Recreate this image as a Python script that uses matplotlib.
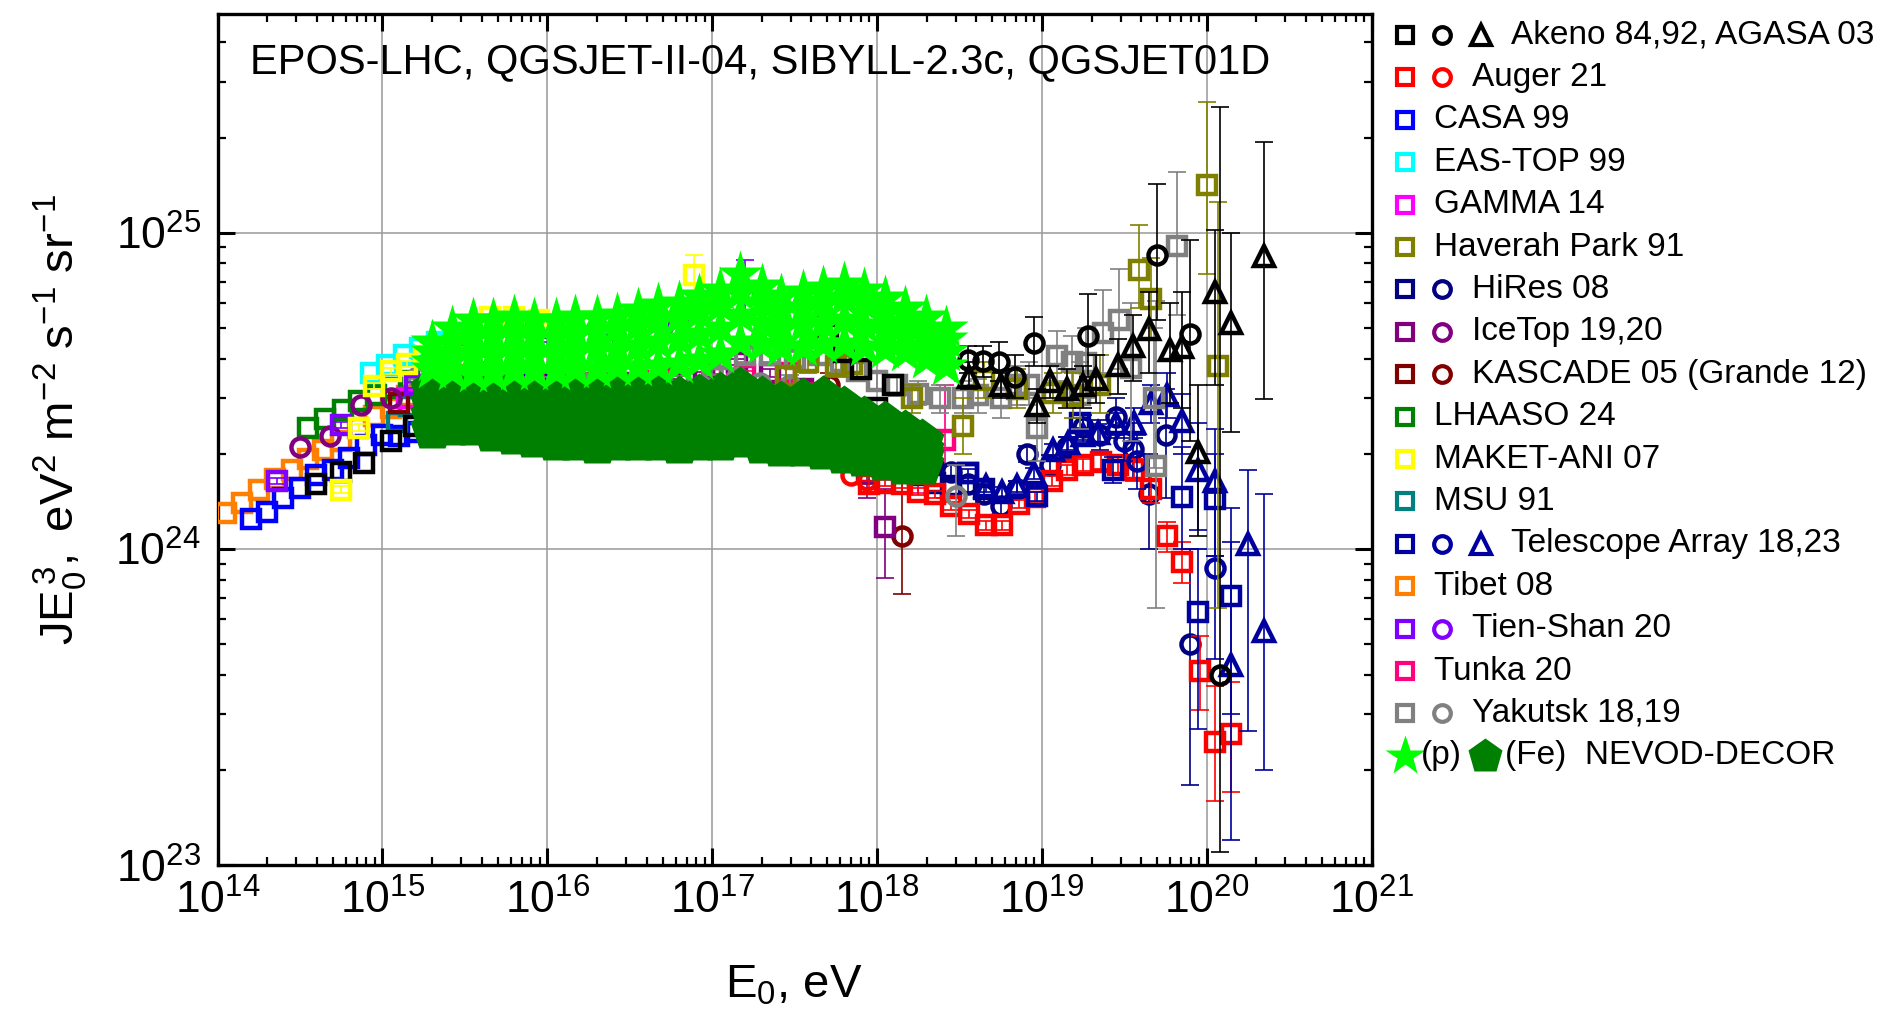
import matplotlib
matplotlib.use('Agg')
import matplotlib.pyplot as plt
from matplotlib.ticker import LogLocator, NullFormatter

plt.rcParams['font.family'] = ['Liberation Sans', 'DejaVu Sans']
plt.rcParams['mathtext.fontset'] = 'custom'
plt.rcParams['mathtext.rm'] = 'Liberation Sans'
plt.rcParams['mathtext.it'] = 'Liberation Sans:italic'
plt.rcParams['mathtext.bf'] = 'Liberation Sans:bold'

# all energies as log10(E0/eV), all fluxes J*E^3 in units of 1e24 eV^2 m^-2 s^-1 sr^-1

# Tibet 08
tibet_lg = [14.05, 14.15, 14.25, 14.35, 14.45, 14.55, 14.64, 14.75, 14.85, 14.95, 15.05, 15.15, 15.25, 15.35, 15.45, 15.6, 15.8, 16.0]
tibet_j = [1.30, 1.40, 1.54, 1.66, 1.78, 1.92, 2.05, 2.20, 2.42, 2.63, 2.80, 3.04, 3.27, 3.50, 3.55, 3.60, 3.50, 3.40]

# CASA 99
casa_lg = [14.2, 14.3, 14.4, 14.5, 14.6, 14.7, 14.8, 14.9, 15.0, 15.1, 15.2, 15.3, 15.4, 15.5, 15.6, 15.7]
casa_j = [1.24, 1.31, 1.45, 1.56, 1.71, 1.78, 1.94, 2.14, 2.30, 2.28, 2.35, 2.40, 2.40, 2.38, 2.37, 2.30]

# LHAASO 24
lhaaso_lg = [14.55, 14.65, 14.76, 14.86, 14.96, 15.06, 15.16, 15.26, 15.36, 15.46, 15.56, 15.66, 15.76, 15.86, 15.96, 16.06]
lhaaso_j = [2.42, 2.57, 2.76, 2.93, 3.08, 3.22, 3.40, 3.55, 3.60, 3.50, 3.40, 3.30, 3.20, 3.10, 3.00, 2.95]

# EAS-TOP 99
eastop_lg = [14.93, 15.03, 15.13, 15.23, 15.33, 15.43]
eastop_j = [3.60, 3.83, 4.10, 4.33, 4.50, 4.60]

# MAKET-ANI 07
maket_lg = [14.75, 14.86, 14.95, 15.05, 15.15, 15.25, 15.45, 15.65, 15.80, 15.95, 16.89]
maket_j = [1.54, 2.42, 3.27, 3.66, 3.85, 4.08, 4.60, 5.40, 5.40, 5.30, 7.38]
maket_lo = [1.50, 2.36, 3.20, 3.58, 3.77, 4.00, 4.50, 5.25, 5.25, 5.15, 6.50]
maket_hi = [1.58, 2.48, 3.34, 3.74, 3.93, 4.16, 4.70, 5.55, 5.55, 5.45, 8.50]

# MSU 91
msu_lg = [15.09, 15.16, 15.25, 15.40, 15.60, 15.80, 16.00, 16.20, 16.40, 16.60, 16.80]
msu_j = [2.53, 2.84, 2.90, 3.00, 3.10, 3.10, 3.00, 2.90, 2.80, 2.70, 2.60]

# GAMMA 14
gamma_lg = [15.15, 15.35, 15.55, 15.75, 15.95, 16.15, 16.35, 16.55, 16.75, 16.95, 17.15, 17.35]
gamma_j = [3.00, 3.20, 3.30, 3.40, 3.30, 3.20, 3.20, 3.30, 3.50, 3.60, 3.40, 2.30]

# Tien-Shan 20
tien_sq_lg = [14.36, 14.75, 15.20, 15.60, 16.00, 16.40, 16.80, 17.20]
tien_sq_j = [1.64, 2.47, 3.30, 4.00, 4.40, 4.60, 4.90, 6.50]
tien_sq_lo = [1.60, 2.41, 3.22, 3.90, 4.28, 4.45, 4.70, 5.50]
tien_sq_hi = [1.68, 2.53, 3.38, 4.10, 4.52, 4.75, 5.10, 8.20]
tien_c_lg = [15.50, 15.90, 16.30, 16.70]
tien_c_j = [4.70, 5.00, 5.00, 5.10]

# IceTop 19,20
icetop_sq_lg = [16.35, 16.55, 16.75, 16.95, 17.15, 17.35, 17.55, 17.75, 17.94, 18.05]
icetop_sq_j = [3.30, 3.35, 3.50, 3.70, 3.90, 3.60, 3.20, 2.40, 1.74, 1.17]
icetop_sq_lo = [3.25, 3.30, 3.44, 3.63, 3.82, 3.50, 3.05, 2.20, 1.45, 0.81]
icetop_sq_hi = [3.35, 3.40, 3.56, 3.77, 3.98, 3.70, 3.35, 2.60, 2.05, 1.55]
icetop_c_lg = [14.50, 14.68, 14.87, 15.05, 15.25, 15.45, 15.65, 15.85]
icetop_c_j = [2.10, 2.28, 2.85, 3.00, 3.20, 3.40, 3.50, 3.50]

# KASCADE 05 / Grande 12
kascade_sq_lg = [15.1, 15.3, 15.5, 15.7, 15.9, 16.1, 16.3, 16.5, 16.7, 16.9]
kascade_sq_j = [2.90, 3.00, 3.10, 3.00, 2.90, 2.80, 2.70, 2.60, 2.50, 2.40]
kascade_c_lg = [16.25, 16.45, 16.65, 16.85, 17.05, 17.25, 17.45, 17.71, 17.95, 18.15]
kascade_c_j = [3.30, 3.20, 3.20, 3.10, 3.00, 2.90, 2.80, 3.30, 2.00, 1.10]
kascade_c_lo = [3.25, 3.15, 3.10, 2.95, 2.80, 2.60, 2.40, 3.00, 1.60, 0.72]
kascade_c_hi = [3.35, 3.25, 3.30, 3.25, 3.20, 3.20, 3.20, 3.60, 2.40, 1.62]

# Tunka 20
tunka_lg = [15.8, 16.0, 16.2, 16.4, 16.6, 16.8, 17.0, 17.2, 17.45, 17.65, 17.85, 18.05, 18.25, 18.41]
tunka_j = [3.30, 3.30, 3.35, 3.35, 3.40, 3.45, 3.50, 3.55, 3.61, 3.10, 2.40, 2.00, 1.90, 2.22]
tunka_lo = [3.25, 3.25, 3.30, 3.30, 3.34, 3.38, 3.42, 3.45, 3.45, 2.85, 2.10, 1.65, 1.50, 1.45]
tunka_hi = [3.35, 3.35, 3.40, 3.40, 3.46, 3.52, 3.58, 3.65, 3.80, 3.35, 2.70, 2.35, 2.35, 3.30]

# Telescope Array 18,23
ta_sq_lg = [15.45, 15.6, 15.75, 15.9, 16.05, 16.2, 16.35, 16.5, 16.65, 16.8, 16.95, 17.1, 18.55, 18.97, 19.23, 19.43, 19.85, 19.95, 20.05, 20.15]
ta_sq_j = [3.50, 3.45, 3.40, 3.35, 3.30, 3.30, 3.25, 3.25, 3.20, 3.10, 3.00, 2.90, 1.74, 1.47, 2.50, 1.78, 1.46, 0.63, 1.44, 0.71]
ta_sq_lo = [3.45, 3.40, 3.35, 3.30, 3.25, 3.25, 3.20, 3.20, 3.15, 3.05, 2.95, 2.85, 1.69, 1.42, 2.40, 1.62, 1.00, 0.27, 0.95, 0.30]
ta_sq_hi = [3.55, 3.50, 3.45, 3.40, 3.35, 3.35, 3.30, 3.30, 3.25, 3.15, 3.05, 2.95, 1.79, 1.52, 2.60, 1.95, 2.10, 1.00, 2.00, 1.35]
ta_c_lg = [19.50, 19.58, 20.05]
ta_c_j = [2.20, 1.90, 0.87]
ta_c_lo = [1.90, 1.55, 0.45]
ta_c_hi = [2.50, 2.30, 1.50]
ta_t_lg = [18.66, 18.76, 18.85, 18.95, 19.07, 19.16, 19.25, 19.34, 19.45, 19.56, 19.66, 19.76, 19.85, 19.95, 20.05, 20.15, 20.25, 20.35]
ta_t_j = [1.58, 1.51, 1.58, 1.74, 2.06, 2.16, 2.30, 2.33, 2.50, 2.50, 2.90, 3.08, 2.54, 1.78, 1.64, 0.43, 1.04, 0.55]
ta_t_lo = [1.52, 1.45, 1.52, 1.67, 1.97, 2.06, 2.18, 2.18, 2.30, 2.25, 2.50, 2.60, 2.00, 1.15, 0.95, 0.12, 0.265, 0.20]
ta_t_hi = [1.64, 1.57, 1.64, 1.81, 2.15, 2.26, 2.42, 2.48, 2.70, 2.80, 3.30, 3.60, 3.10, 2.50, 2.40, 1.05, 1.78, 1.49]

# HiRes 08
hires_sq_lg = [17.25, 17.4, 17.55, 17.7, 17.85, 17.95, 18.05, 18.15, 18.25, 18.35, 18.45, 18.55, 18.65]
hires_sq_j = [2.60, 2.45, 2.30, 2.15, 2.00, 1.90, 1.85, 1.78, 1.72, 1.62, 1.58, 1.74, 1.55]
hires_c_lg = [18.28, 18.34, 18.45, 18.55, 18.65, 18.75, 18.85, 18.91, 19.05, 19.15, 19.25, 19.35, 19.45, 19.55, 19.65, 19.75, 19.90]
hires_c_j = [2.10, 1.84, 1.75, 1.60, 1.49, 1.37, 1.55, 2.00, 1.85, 2.10, 2.44, 2.30, 2.62, 2.07, 1.49, 2.30, 0.50]
hires_c_lo = [2.00, 1.75, 1.66, 1.52, 1.41, 1.29, 1.46, 1.88, 1.72, 1.94, 2.22, 2.05, 2.25, 1.65, 1.00, 1.45, 0.18]
hires_c_hi = [2.20, 1.93, 1.84, 1.68, 1.57, 1.45, 1.64, 2.12, 1.98, 2.26, 2.66, 2.55, 3.00, 2.50, 2.00, 3.20, 1.00]

# Auger 21
auger_sq_lg = [17.95, 18.05, 18.15, 18.25, 18.35, 18.45, 18.56, 18.66, 18.76, 18.86, 18.96, 19.06, 19.15, 19.25, 19.36, 19.46, 19.56, 19.66, 19.76, 19.85, 19.96, 20.05, 20.15]
auger_sq_j = [1.60, 1.62, 1.60, 1.52, 1.49, 1.37, 1.29, 1.19, 1.19, 1.39, 1.46, 1.64, 1.78, 1.84, 1.89, 1.85, 1.78, 1.55, 1.10, 0.91, 0.41, 0.246, 0.26]
auger_sq_lo = [1.56, 1.58, 1.56, 1.48, 1.45, 1.33, 1.25, 1.15, 1.15, 1.35, 1.41, 1.58, 1.71, 1.76, 1.79, 1.74, 1.64, 1.40, 0.98, 0.78, 0.31, 0.16, 0.17]
auger_sq_hi = [1.64, 1.66, 1.64, 1.56, 1.53, 1.41, 1.33, 1.23, 1.23, 1.43, 1.51, 1.70, 1.85, 1.92, 1.99, 1.96, 1.92, 1.70, 1.22, 1.05, 0.53, 0.37, 0.38]
auger_c_lg = [17.50, 17.58, 17.66, 17.75, 17.84, 17.94]
auger_c_j = [2.35, 2.20, 2.05, 1.96, 1.71, 1.65]

# Haverah Park 91
hp_lg = [17.45, 17.58, 17.75, 17.85, 18.21, 18.52, 18.65, 18.85, 19.07, 19.19, 19.35, 19.59, 19.66, 20.00, 20.07]
hp_j = [3.52, 3.90, 3.78, 3.84, 3.00, 2.45, 3.42, 3.20, 3.12, 3.05, 3.30, 7.60, 6.17, 14.2, 3.78]
hp_lo = [3.30, 3.60, 3.50, 3.50, 2.70, 2.00, 3.00, 2.80, 2.70, 2.60, 2.70, 5.80, 4.60, 7.40, 0.65]
hp_hi = [3.75, 4.20, 4.10, 4.20, 3.30, 3.00, 3.90, 3.70, 3.60, 3.60, 4.10, 10.6, 8.30, 26.0, 12.5]

# Yakutsk 18,19
yak_sq_lg = [17.05, 17.2, 17.35, 17.5, 17.65, 17.78, 17.88, 18.0, 18.12, 18.25, 18.38, 18.52, 18.61, 18.75, 18.85, 18.92, 18.97, 19.09, 19.18, 19.23, 19.27, 19.37, 19.47, 19.54, 19.68, 19.69, 19.82]
yak_sq_j = [4.00, 4.10, 4.10, 4.00, 4.10, 3.90, 3.66, 3.40, 3.30, 3.10, 3.00, 3.00, 3.06, 3.00, 3.30, 3.31, 2.42, 4.07, 3.90, 3.08, 3.88, 4.82, 5.28, 3.73, 3.00, 1.83, 9.10]
yak_sq_lo = [3.80, 3.90, 3.90, 3.80, 3.85, 3.65, 3.40, 3.15, 3.05, 2.85, 2.70, 2.70, 2.70, 2.60, 2.85, 2.85, 1.90, 3.40, 3.20, 2.40, 3.00, 3.60, 3.70, 2.20, 1.80, 0.65, 5.50]
yak_sq_hi = [4.20, 4.30, 4.30, 4.20, 4.35, 4.15, 3.90, 3.65, 3.55, 3.40, 3.30, 3.40, 3.45, 3.40, 3.80, 3.90, 3.00, 4.90, 4.70, 3.90, 5.00, 6.60, 7.70, 6.00, 5.00, 6.10, 15.6]
yak_c_lg = [15.21, 15.4, 15.6, 15.8, 16.0, 16.2, 16.4, 16.6, 16.8, 17.0, 17.15, 17.29, 17.47, 18.48]
yak_c_j = [3.50, 3.45, 3.40, 3.40, 3.45, 3.40, 3.40, 3.35, 3.45, 3.66, 3.50, 3.34, 3.30, 1.47]
yak_c_lo = [3.45, 3.40, 3.35, 3.35, 3.40, 3.35, 3.35, 3.30, 3.38, 3.55, 3.35, 3.15, 3.05, 1.10]
yak_c_hi = [3.55, 3.50, 3.45, 3.45, 3.50, 3.45, 3.45, 3.40, 3.52, 3.77, 3.65, 3.53, 3.55, 1.84]

# Akeno 84,92 and AGASA 03
akeno_sq_lg = [14.60, 14.75, 14.89, 15.05, 15.19, 15.35, 15.50, 17.58, 17.70, 17.80, 17.90, 18.00, 18.10]
akeno_sq_j = [1.60, 1.75, 1.87, 2.20, 2.45, 2.60, 2.70, 5.58, 4.80, 4.20, 3.70, 2.79, 3.30]
akeno_c_lg = [18.55, 18.64, 18.74, 18.84, 18.95, 19.28, 19.70, 19.90, 20.08]
akeno_c_j = [3.97, 3.94, 3.90, 3.50, 4.48, 4.72, 8.50, 4.79, 0.40]
akeno_c_lo = [3.60, 3.50, 3.40, 3.00, 3.80, 3.50, 5.30, 2.20, 0.11]
akeno_c_hi = [4.40, 4.40, 4.50, 4.10, 5.40, 6.40, 14.3, 9.50, 25.0]
agasa_lg = [18.56, 18.75, 18.97, 19.05, 19.15, 19.25, 19.33, 19.46, 19.55, 19.65, 19.78, 19.85, 19.95, 20.05, 20.15, 20.35]
agasa_j = [3.50, 3.30, 2.86, 3.40, 3.20, 3.30, 3.46, 3.83, 4.40, 4.97, 4.26, 4.35, 2.02, 6.52, 5.19, 8.45]
agasa_lo = [3.20, 3.00, 2.50, 3.00, 2.80, 2.80, 2.90, 3.10, 3.40, 3.60, 2.90, 2.80, 1.10, 3.30, 2.34, 2.98]
agasa_hi = [3.90, 3.60, 3.20, 3.80, 3.70, 3.80, 4.10, 4.60, 5.50, 6.50, 6.00, 6.50, 3.30, 10.2, 10.0, 19.4]

# NEVOD-DECOR, four hadronic models, proton and iron assumptions
nevod_p_lg = [15.30, 15.42, 15.55, 15.67, 15.80, 15.92, 16.05, 16.17, 16.30, 16.42, 16.55, 16.67, 16.80,
              16.92, 17.05, 17.17, 17.30, 17.42, 17.55, 17.67, 17.80, 17.92, 18.05, 18.17, 18.30, 18.42]
nevod_p_epos = [4.5, 5.0, 5.3, 5.3, 5.4, 5.3, 5.3, 5.4, 5.4, 5.5, 5.7, 5.9, 6.0, 6.3, 6.6, 7.4, 6.8, 6.3, 6.5, 6.7, 6.9, 6.6, 6.2, 5.8, 5.4, 5.0]
nevod_p_qgs2 = [4.2, 4.5, 4.7, 4.7, 4.8, 4.7, 4.7, 4.8, 4.9, 5.0, 5.1, 5.3, 5.4, 5.6, 5.9, 6.5, 6.0, 5.7, 5.8, 6.0, 6.2, 6.0, 5.6, 5.2, 4.9, 4.6]
nevod_p_sib = [3.9, 4.0, 4.1, 4.1, 4.2, 4.1, 4.1, 4.2, 4.3, 4.3, 4.4, 4.5, 4.6, 4.8, 5.0, 5.5, 5.2, 5.0, 5.1, 5.2, 5.3, 5.1, 4.9, 4.7, 4.4, 4.2]
nevod_p_qgs1 = [3.7, 3.65, 3.6, 3.6, 3.65, 3.65, 3.65, 3.7, 3.7, 3.75, 3.75, 3.8, 3.85, 3.95, 4.15, 4.5, 4.45, 4.35, 4.35, 4.45, 4.45, 4.35, 4.3, 4.2, 4.0, 3.8]
nevod_fe_lg = [15.30, 15.42, 15.55, 15.67, 15.80, 15.92, 16.05, 16.17, 16.30, 16.42, 16.55, 16.67,
               16.80, 16.92, 17.05, 17.17, 17.30, 17.42, 17.55, 17.67, 17.80, 17.92, 18.05, 18.17, 18.27]
nevod_fe_epos = [3.2, 3.3, 3.3, 3.2, 3.1, 3.1, 3.05, 3.0, 3.0, 3.05, 3.1, 3.1, 3.0, 3.05, 3.1, 3.2, 3.0, 2.9, 2.95, 3.0, 2.8, 2.6, 2.5, 2.35, 2.2]
nevod_fe_qgs2 = [2.9, 2.95, 3.0, 2.9, 2.8, 2.75, 2.75, 2.7, 2.65, 2.7, 2.75, 2.7, 2.65, 2.7, 2.75, 2.8, 2.65, 2.6, 2.6, 2.65, 2.5, 2.35, 2.25, 2.15, 2.05]
nevod_fe_sib = [2.65, 2.7, 2.7, 2.6, 2.55, 2.5, 2.45, 2.45, 2.4, 2.45, 2.45, 2.45, 2.4, 2.45, 2.45, 2.5, 2.4, 2.35, 2.35, 2.35, 2.25, 2.15, 2.05, 2.0, 1.95]
nevod_fe_qgs1 = [2.4, 2.45, 2.45, 2.35, 2.3, 2.25, 2.2, 2.2, 2.15, 2.2, 2.2, 2.2, 2.15, 2.2, 2.2, 2.25, 2.15, 2.1, 2.1, 2.05, 2.0, 1.95, 1.9, 1.85, 1.85]

MS = {'s': 12.5, 'o': 13, '^': 15}
MEW = 3.2


def draw(ax, lg, j, color, marker, lo=None, hi=None, z=3):
    x = [10 ** a for a in lg]
    y = [b * 1e24 for b in j]
    if lo is not None:
        yerr = [[(b - l) * 1e24 for b, l in zip(j, lo)],
                [(h - b) * 1e24 for b, h in zip(j, hi)]]
        ax.errorbar(x, y, yerr=yerr, fmt='none', ecolor=color, elinewidth=1.2,
                    capsize=6.5, capthick=1.2, zorder=z)
    ax.plot(x, y, ls='none', marker=marker, ms=MS[marker], mfc='none',
            mec=color, mew=MEW, zorder=z)


fig = plt.figure(figsize=(18.95, 10.21), dpi=100)
ax = fig.add_axes([0.1148, 0.1525, 0.609, 0.8333])
ax.set_xscale('log')
ax.set_yscale('log')
ax.set_xlim(1e14, 1e21)
ax.set_ylim(1e23, 4.9e25)

draw(ax, tibet_lg, tibet_j, '#FF8000', 's')
draw(ax, casa_lg, casa_j, '#0000FF', 's')
draw(ax, lhaaso_lg, lhaaso_j, '#008000', 's')
draw(ax, eastop_lg, eastop_j, '#00FFFF', 's')
draw(ax, msu_lg, msu_j, '#008080', 's')
draw(ax, gamma_lg, gamma_j, '#FF00FF', 's')
draw(ax, kascade_sq_lg, kascade_sq_j, '#800000', 's')
draw(ax, kascade_c_lg, kascade_c_j, '#800000', 'o', kascade_c_lo, kascade_c_hi)
draw(ax, icetop_c_lg, icetop_c_j, '#800080', 'o')
draw(ax, icetop_sq_lg, icetop_sq_j, '#800080', 's', icetop_sq_lo, icetop_sq_hi)
draw(ax, tunka_lg, tunka_j, '#FF0080', 's', tunka_lo, tunka_hi)
draw(ax, hires_sq_lg, hires_sq_j, '#000080', 's')
draw(ax, hires_c_lg, hires_c_j, '#000080', 'o', hires_c_lo, hires_c_hi)
draw(ax, auger_c_lg, auger_c_j, '#FF0000', 'o')
draw(ax, auger_sq_lg, auger_sq_j, '#FF0000', 's', auger_sq_lo, auger_sq_hi)
draw(ax, ta_sq_lg, ta_sq_j, '#0000A0', 's', ta_sq_lo, ta_sq_hi)
draw(ax, ta_c_lg, ta_c_j, '#0000A0', 'o', ta_c_lo, ta_c_hi)
draw(ax, ta_t_lg, ta_t_j, '#0000A0', '^', ta_t_lo, ta_t_hi)
draw(ax, yak_c_lg, yak_c_j, '#808080', 'o', yak_c_lo, yak_c_hi)
draw(ax, yak_sq_lg, yak_sq_j, '#808080', 's', yak_sq_lo, yak_sq_hi)
draw(ax, hp_lg, hp_j, '#808000', 's', hp_lo, hp_hi)
draw(ax, akeno_sq_lg, akeno_sq_j, '#000000', 's')
draw(ax, akeno_c_lg, akeno_c_j, '#000000', 'o', akeno_c_lo, akeno_c_hi)
draw(ax, agasa_lg, agasa_j, '#000000', '^', agasa_lo, agasa_hi)
draw(ax, tien_sq_lg, tien_sq_j, '#8000FF', 's', tien_sq_lo, tien_sq_hi)
draw(ax, tien_c_lg, tien_c_j, '#8000FF', 'o')
draw(ax, maket_lg, maket_j, '#FFFF00', 's', maket_lo, maket_hi)

for fe in [nevod_fe_epos, nevod_fe_qgs2, nevod_fe_sib, nevod_fe_qgs1]:
    ax.plot([10 ** a for a in nevod_fe_lg], [b * 1e24 for b in fe], ls='none',
            marker='p', ms=33, color='#008000', mec='none', zorder=5)
for p in [nevod_p_epos, nevod_p_qgs2, nevod_p_sib, nevod_p_qgs1]:
    ax.plot([10 ** a for a in nevod_p_lg], [b * 1e24 for b in p], ls='none',
            marker='*', ms=34, color='#00FF00', mec='none', zorder=6)

ax.xaxis.set_major_locator(LogLocator(base=10, numticks=20))
ax.yaxis.set_major_locator(LogLocator(base=10, numticks=20))
ax.xaxis.set_minor_locator(LogLocator(base=10, subs=range(2, 10), numticks=100))
ax.yaxis.set_minor_locator(LogLocator(base=10, subs=range(2, 10), numticks=100))
ax.xaxis.set_minor_formatter(NullFormatter())
ax.yaxis.set_minor_formatter(NullFormatter())
ax.tick_params(which='both', direction='in', top=True, right=True)
ax.tick_params(which='major', length=12, width=2.2, labelsize=32)
ax.tick_params(axis='x', which='major', pad=10)
ax.tick_params(axis='y', which='major', pad=12)
ax.tick_params(which='minor', length=6, width=1.6)
for s in ax.spines.values():
    s.set_linewidth(2.4)
ax.set_axisbelow(True)
ax.grid(which='major', color='#999999', lw=1.1)

ax.text(0.028, 0.944, 'EPOS-LHC, QGSJET-II-04, SIBYLL-2.3c, QGSJET01D',
        transform=ax.transAxes, fontsize=30, va='center', ha='left')

fig.text(0.032, 0.589, r'$\mathregular{JE_0^{\,3},\ eV^2\ m^{-2}\ s^{-1}\ sr^{-1}}$',
         rotation=90, fontsize=34, ha='center', va='center')
fig.text(0.419, 0.035, r'$\mathregular{E_0}$, eV', fontsize=34, ha='center', va='center')

# legend drawn by hand in pixel coordinates
lax = fig.add_axes([0, 0, 1, 1], facecolor='none')
lax.set_xlim(0, 1895)
lax.set_ylim(1021, 0)
lax.axis('off')

legend_rows = [
    (['s', 'o', '^'], '#000000', 'Akeno 84,92, AGASA 03'),
    (['s', 'o'], '#FF0000', 'Auger 21'),
    (['s'], '#0000FF', 'CASA 99'),
    (['s'], '#00FFFF', 'EAS-TOP 99'),
    (['s'], '#FF00FF', 'GAMMA 14'),
    (['s'], '#808000', 'Haverah Park 91'),
    (['s', 'o'], '#000080', 'HiRes 08'),
    (['s', 'o'], '#800080', 'IceTop 19,20'),
    (['s', 'o'], '#800000', 'KASCADE 05 (Grande 12)'),
    (['s'], '#008000', 'LHAASO 24'),
    (['s'], '#FFFF00', 'MAKET-ANI 07'),
    (['s'], '#008080', 'MSU 91'),
    (['s', 'o', '^'], '#0000A0', 'Telescope Array 18,23'),
    (['s'], '#FF8000', 'Tibet 08'),
    (['s', 'o'], '#8000FF', 'Tien-Shan 20'),
    (['s'], '#FF0080', 'Tunka 20'),
    (['s', 'o'], '#808080', 'Yakutsk 18,19'),
]
mark_x = [1405, 1442, 1481]
text_x = [1434, 1472, 1511]
row_y0 = 35
row_dy = 42.4
legend_ms = {'s': 11, 'o': 12, '^': 14}
for i, (marks, col, label) in enumerate(legend_rows):
    yy = row_y0 + i * row_dy
    for k, m in enumerate(marks):
        lax.plot([mark_x[k]], [yy], marker=m, ms=legend_ms[m], mfc='none', mec=col, mew=3.0)
    lax.text(text_x[len(marks) - 1], yy, label, fontsize=24, va='center', ha='left')

yy = row_y0 + len(legend_rows) * row_dy
lax.plot([1405], [yy], marker='*', ms=30, color='#00FF00', mec='none')
lax.text(1421, yy, '(p)', fontsize=24, va='center', ha='left')
lax.plot([1485], [yy], marker='p', ms=26, color='#008000', mec='none')
lax.text(1505, yy, '(Fe)  NEVOD-DECOR', fontsize=24, va='center', ha='left')

fig.savefig('out.png', dpi=100)
